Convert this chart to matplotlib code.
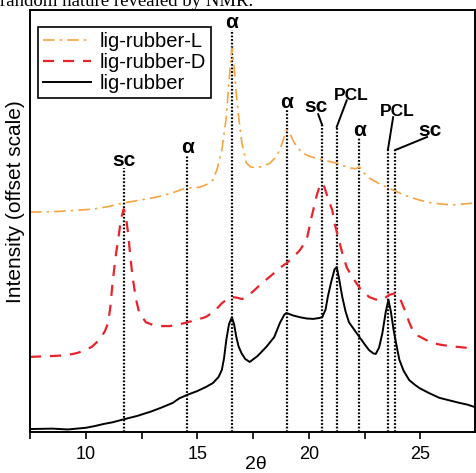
import numpy as np
import matplotlib
matplotlib.use("Agg")
from matplotlib import pyplot as plt
from matplotlib.ticker import MultipleLocator

plt.rcParams['font.family'] = ['Liberation Sans', 'DejaVu Sans']

# lig-rubber (black)
x_rub = [7.5, 8.5, 9.2, 10.0, 10.4, 10.8, 11.2, 11.7, 12.3, 12.9, 13.4, 13.9, 14.2, 14.55,
         15.0, 15.4, 15.7, 15.95, 16.1, 16.2, 16.3, 16.42, 16.55, 16.65, 16.75, 16.85, 16.98,
         17.15, 17.35, 17.7, 18.1, 18.45, 18.7, 18.9, 19.0, 19.3, 19.6, 19.9, 20.2, 20.45,
         20.6, 20.75, 20.85, 21.0, 21.15, 21.25, 21.35, 21.5, 21.65, 21.8, 22.0, 22.27, 22.5,
         22.7, 22.9, 23.0, 23.15, 23.3, 23.45, 23.57, 23.68, 23.8, 23.95, 24.06, 24.25, 24.5,
         24.75, 24.96, 25.4, 25.85, 26.3, 26.75, 27.1, 27.45]
y_rub = [0.7, 0.8, 0.6, 1.0, 1.4, 1.9, 2.3, 3.0, 3.8, 4.8, 5.8, 6.9, 8.0, 8.8,
         9.7, 10.7, 11.6, 13.0, 14.7, 17.5, 21.8, 25.5, 27.2, 25.5, 22.5, 20.3, 18.7,
         17.3, 16.6, 18.0, 20.2, 22.5, 25.8, 27.8, 28.2, 27.6, 27.2, 26.9, 26.8, 27.0,
         27.2, 29.0, 32.0, 35.5, 38.5, 39.1, 36.5, 32.0, 28.5, 26.0, 24.5, 22.5, 20.8,
         19.4, 18.6, 18.5, 20.0, 23.5, 28.5, 31.3, 28.5, 24.2, 20.0, 17.1, 14.5, 12.3,
         11.2, 10.4, 9.2, 8.1, 7.5, 6.9, 6.5, 5.9]

# lig-rubber-D (red)
x_d = [7.5, 8.0, 8.5, 9.15, 9.6, 10.0, 10.3, 10.6, 10.85, 11.0, 11.1, 11.2, 11.35, 11.45,
       11.58, 11.7, 11.8, 11.9, 12.0, 12.1, 12.25, 12.4, 12.7, 13.0, 13.4, 13.76, 14.2,
       14.55, 15.0, 15.4, 15.8, 16.1, 16.35, 16.55, 16.8, 17.0, 17.2, 17.5, 17.9, 18.3,
       18.7, 19.0, 19.3, 19.6, 19.9, 20.0, 20.1, 20.2, 20.35, 20.5, 20.6, 20.7, 20.85,
       21.05, 21.15, 21.25, 21.5, 21.7, 21.95, 22.3, 22.7, 23.0, 23.3, 23.6, 23.9, 24.1,
       24.3, 24.5, 24.65, 24.9, 25.26, 25.6, 26.0, 26.6, 27.2, 27.45]
y_d = [17.8, 17.9, 18.0, 18.2, 18.7, 19.4, 20.3, 21.8, 23.8, 25.8, 29.5, 35.3, 42.0, 45.5,
       50.5, 52.8, 51.0, 47.0, 41.5, 36.7, 31.5, 28.2, 26.0, 25.4, 25.1, 25.1, 25.5,
       26.0, 26.6, 27.3, 28.8, 30.5, 31.5, 32.0, 31.8, 31.5, 32.0, 33.3, 35.3, 37.0,
       38.9, 40.0, 41.4, 43.1, 45.5, 47.9, 50.5, 52.6, 56.0, 58.5, 59.0, 58.0, 55.5,
       52.6, 49.5, 47.5, 42.4, 39.0, 36.7, 34.0, 32.0, 31.4, 31.3, 32.5, 32.9, 31.5,
       28.9, 26.0, 24.2, 22.8, 21.8, 21.0, 20.6, 20.2, 19.9, 19.9]

# lig-rubber-L (orange)
x_l = [7.5, 8.5, 9.15, 10.3, 11.0, 11.7, 12.5, 13.2, 13.9, 14.5, 15.1, 15.4, 15.7, 15.9,
       16.1, 16.3, 16.42, 16.55, 16.65, 16.75, 16.88, 17.0, 17.2, 17.4, 17.65, 17.95,
       18.25, 18.5, 18.7, 18.87, 19.0, 19.2, 19.35, 19.7, 20.1, 20.6, 21.25, 21.8, 22.1,
       22.27, 22.45, 22.7, 23.1, 23.5, 24.0, 24.5, 25.0, 25.5, 26.0, 26.4, 26.9, 27.45]
y_l = [52.1, 52.2, 52.4, 52.8, 53.4, 54.3, 55.0, 55.7, 56.7, 57.8, 58.0, 58.6, 59.7, 62.5,
       66.8, 74.6, 83.0, 91.0, 86.5, 80.0, 73.5, 68.5, 63.7, 62.8, 62.6, 63.0,
       63.7, 65.0, 66.8, 69.5, 71.6, 70.2, 68.5, 66.1, 65.2, 64.5, 63.7, 62.6, 62.4,
       62.8, 61.5, 60.2, 59.0, 58.0, 56.8, 55.7, 54.9, 54.3, 54.0, 53.8, 54.0, 54.3]

# reflection markers
peak_pos = [11.7, 14.55, 16.55, 19.0, 20.6, 21.25, 22.27, 23.55, 23.87]
peak_top = [62.6, 65.6, 95.3, 76.3, 72.7, 72.3, 69.7, 67.0, 66.8]
peak_lab = ['sc', 'α', 'α', 'α', 'sc', 'PCL', 'α', 'PCL', 'sc']
# label position and leader end (None = label right above the line)
lab_xy = [None, None, None, None, (20.3, 74.8), (21.9, 78.0), None, (23.95, 74.2), (25.45, 69.2)]
lead_end = [None, None, None, None, (20.42, 75.3), (21.7, 78.6), None, (23.78, 74.6), (25.3, 69.9)]

fig = plt.figure(figsize=(4.76, 4.73), dpi=100)
ax = fig.add_axes([30/476, 41/473, 445/476, 422/473])

ax.plot(x_l, y_l, color='#f5a442', lw=1.2, dashes=[7, 3, 1.5, 3], label='lig-rubber-L')
ax.plot(x_d, y_d, color='#e8232c', lw=1.6, dashes=[5, 4], label='lig-rubber-D')
ax.plot(x_rub, y_rub, color='black', lw=1.4, label='lig-rubber')

for p, t, lab, xy, le in zip(peak_pos, peak_top, peak_lab, lab_xy, lead_end):
    ax.plot([p, p], [0, t], color='black', lw=1.6, dashes=[0.8, 0.8], zorder=1)
    fs = 12.5 if lab == 'PCL' else 15
    if xy is None:
        ax.text(p, t - 0.4, lab, ha='center', va='bottom', fontsize=fs, fontweight='bold')
    else:
        ax.plot([p, le[0]], [t, le[1]], color='black', lw=1.4)
        ax.text(xy[0], xy[1], lab, ha='center', va='bottom', fontsize=fs, fontweight='bold')

ax.set_xlim(7.5, 27.45)
ax.set_ylim(0, 100)
ax.set_yticks([])
ax.xaxis.set_major_locator(MultipleLocator(5))
ax.xaxis.set_minor_locator(MultipleLocator(2.5))
ax.tick_params(axis='x', which='both', direction='out', length=5, width=1.2, labelsize=13, pad=5)
for s in ax.spines.values():
    s.set_linewidth(1.4)

ax.set_xlabel('2θ', fontsize=14)
ax.xaxis.set_label_coords(0.508, -0.058)
ax.set_ylabel('Intensity (offset scale)', fontsize=15)
ax.yaxis.set_label_coords(-0.012, 0.545)

leg = ax.legend(loc='upper left', fontsize=14.5, handlelength=2.4, labelspacing=0.1,
                borderpad=0.25, handletextpad=0.4, fancybox=False, edgecolor='black',
                framealpha=1, borderaxespad=0, bbox_to_anchor=(0.018, 0.96))
leg.get_frame().set_linewidth(1.2)

fig.text(0.0, 1 - 6/473, 'random nature revealed by NMR.', fontsize=13.5,
         family='Liberation Serif', ha='left', va='baseline')

fig.savefig('out.png', dpi=100)
